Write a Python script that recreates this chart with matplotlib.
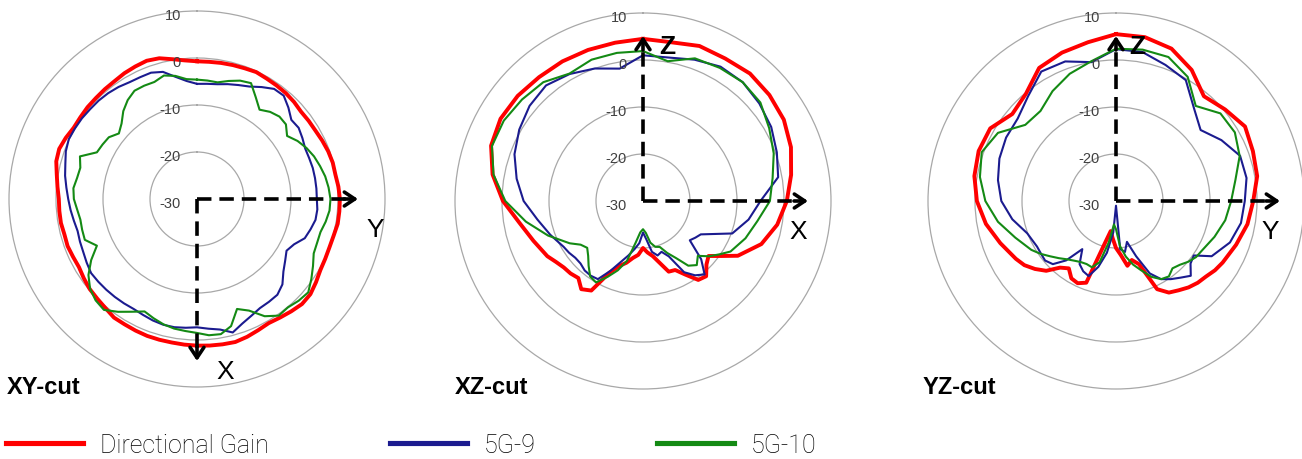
import numpy as np
import matplotlib
matplotlib.use("Agg")
import matplotlib.pyplot as plt
from matplotlib.lines import Line2D
from matplotlib.transforms import offset_copy

# ---------------- data (dB, angle clockwise from top) ----------------
ang_xy = list(range(0, 360, 5))
ang_bot = list(range(0, 120, 10)) + list(range(120, 245, 5)) + list(range(250, 360, 10))

xy_gain = [-0.7, -0.7, -0.6, -0.5, -0.4, -0.2, -0.4, -0.5, -0.6, -0.8, -1.1, -1.0,
           -0.9, -0.6, -0.3, -0.1, -0.1, 0.2, 0.4, 0.4, 0.4, 0.1, 0.0, 0.1,
           0.3, 0.9, 1.5, 1.6, 1.2, 0.8, 0.5, 0.8, 1.2, 1.5, 1.4, 1.3,
           1.2, 1.1, 1.0, 1.0, 1.0, 0.9, 0.8, 0.8, 0.3, 0.0, -0.2, -0.6,
           -1.0, -0.9, -0.7, -0.8, -0.6, -0.6, -0.6, -0.2, 0.3, 1.0, 1.2, 0.8,
           0.3, 0.3, 0.4, 0.4, 0.5, 0.6, 0.9, 1.1, 1.3, 1.0, 0.2, -0.4]
xy_5g9 = [-5.5, -5.4, -5.2, -4.7, -4.2, -3.6, -2.5, -1.4, -1.3, -2.5, -3.8, -3.6,
          -4.1, -4.6, -4.6, -4.5, -4.5, -4.5, -4.5, -4.3, -4.4, -5.0, -5.6, -7.2,
          -8.0, -7.1, -6.0, -4.3, -3.4, -3.3, -3.2, -2.6, -1.8, -0.6, -1.8, -2.3,
          -2.7, -2.5, -2.3, -2.3, -2.5, -2.8, -3.0, -2.9, -2.8, -2.7, -2.6, -2.5,
          -2.9, -3.3, -3.5, -3.7, -3.4, -3.0, -2.6, -2.1, -1.5, -1.0, -0.3, 0.1,
          0.0, -0.1, -0.3, -0.4, -0.6, -0.9, -1.3, -1.4, -1.4, -2.0, -3.6, -4.8]
xy_5g10 = [-4.6, -4.7, -4.8, -4.0, -3.2, -2.8, -5.0, -6.8, -5.8, -5.2, -5.3, -6.6,
           -5.3, -4.3, -3.5, -2.9, -2.3, -1.9, -1.6, -1.7, -2.2, -2.8, -2.8, -2.6,
           -1.5, -0.3, 0.9, 0.6, 0.1, 0.3, -1.2, -3.8, -5.1, -2.0, -0.8, -0.9,
           -1.5, -1.8, -2.0, -2.4, -3.0, -3.6, -2.3, -0.7, 0.8, 0.5, -0.3, -1.8,
           -4.0, -6.5, -4.6, -4.7, -4.8, -4.4, -3.8, -3.6, -4.1, -4.3, -3.5, -6.5,
           -6.8, -7.1, -8.3, -7.3, -5.6, -4.3, -3.4, -3.4, -3.5, -2.8, -3.4, -4.4]

xz_gain = [4.5, 4.3, 5.1, 5.0, 5.4, 5.1, 4.6, 3.5, 2.0, 0.6, -1.0, -3.2,
           -6.7, -9.6, -11.8, -10.9, -9.1, -9.5, -11.9, -13.8, -14.0, -16.4, -18.1, -19.0,
           -20.0, -18.5, -17.7, -16.4, -15.3, -13.2, -8.0, -7.1, -8.6, -8.2, -8.0, -7.4, -6.5,
           -5.2, -3.3, -0.2, 2.5, 4.4, 5.0, 4.8, 4.4, 4.3, 4.2, 4.2]
xz_5g9 = [1.0, 1.0, 2.0, 3.0, 3.0, 2.3, 1.5, 0.3, -0.8, -5.0, -7.2, -9.8,
          -15.8, -16.4, -17.0, -12.5, -9.6, -10.7, -12.5, -17.0, -18.5, -18.0, -19.0, -21.8,
          -23.3, -21.0, -19.6, -18.0, -16.2, -13.6, -10.8, -10.6, -10.7, -11.2, -11.2, -10.8, -10.5,
          -9.0, -7.2, -4.6, -2.7, -0.9, 0.4, 1.5, 2.1, 1.2, 0.0, -1.4]
xz_5g10 = [1.9, 0.2, 2.3, 2.7, 3.0, 2.6, 1.0, -0.4, -2.0, -3.0, -5.3, -6.8,
           -8.5, -10.2, -11.7, -13.5, -12.2, -13.2, -16.0, -17.8, -19.6, -19.9, -21.0, -23.2,
           -24.0, -23.3, -21.0, -16.8, -14.3, -12.2, -10.0, -10.4, -12.0, -13.5, -14.5, -13.8, -12.0,
           -8.5, -4.7, -0.7, 2.3, 4.2, 4.2, 3.6, 3.0, 1.3, 2.0, 2.0]

yz_gain = [5.5, 5.4, 4.5, 2.2, -0.9, 0.3, 1.7, 1.0, 0.5, -0.8, -1.6, -2.8,
           -3.8, -4.3, -5.0, -5.4, -6.0, -6.8, -7.5, -9.3, -15.7, -17.0, -16.0, -18.5,
           -20.0, -22.0, -23.5, -20.5, -11.5, -10.7, -11.0, -12.5, -11.5, -9.0, -7.5, -6.2, -5.4,
           -3.8, -1.9, -0.4, 0.6, 1.1, 0.9, -1.2, -0.2, 2.7, 3.6, 4.3]
yz_5g9 = [2.3, 2.2, 0.8, -0.3, -4.2, -6.5, -4.1, -1.9, -1.8, -2.6, -3.0, -4.2,
          -6.5, -9.8, -9.3, -7.5, -8.7, -9.7, -10.8, -13.0, -17.5, -21.0, -19.0, -19.7,
          -29.0, -23.3, -18.8, -15.5, -13.0, -13.5, -14.5, -17.5, -13.5, -11.0, -10.3, -10.5, -10.6,
          -9.9, -7.6, -5.6, -4.5, -3.6, -3.0, -2.7, -0.9, 1.8, 1.6, 0.0]
yz_5g10 = [2.4, 2.7, 2.6, 0.5, -3.6, -1.0, -0.8, -2.0, -4.2, -5.5, -6.4, -7.7,
           -8.9, -9.2, -9.9, -10.8, -11.3, -10.4, -10.8, -12.2, -14.3, -16.0, -18.0, -20.4,
           -24.0, -25.0, -21.0, -16.5, -15.0, -15.2, -15.0, -14.5, -13.8, -12.8, -11.7, -10.4, -9.2,
           -7.2, -4.5, -2.2, -0.6, 0.4, -1.0, -4.8, -5.0, -3.0, -1.2, 0.2]

series_names = ["Directional Gain", "5G-9", "5G-10"]
series_colors = ["#FF0000", "#1B1B8F", "#148A14"]
series_widths = [2.8, 1.5, 1.5]
ring_values = [-30, -20, -10, 0, 10]
cut_titles = ["XY-cut", "XZ-cut", "YZ-cut"]

cuts = [
    (ang_xy, [xy_gain, xy_5g9, xy_5g10]),
    (ang_bot, [xz_gain, xz_5g9, xz_5g10]),
    (ang_bot, [yz_gain, yz_5g9, yz_5g10]),
]

# ---------------- layout ----------------
W, H = 1302, 460
fig = plt.figure(figsize=(W / 100, H / 100), dpi=100)
R = 188.0
centers = [(197, 200), (643, 202), (1116, 202)]
title_x = [7, 455, 923]
PX = 0.5 / R  # axes fraction per pixel

arrow_specs = [
    dict(h_len=161, v_len=-162, h_lab="Y", h_pos=(178, -30), v_lab="X", v_pos=(28, -172), v_bold=False),
    dict(h_len=165, v_len=165, h_lab="X", h_pos=(155, -30), v_lab="Z", v_pos=(24, 155), v_bold=True),
    dict(h_len=164, v_len=165, h_lab="Y", h_pos=(154, -30), v_lab="Z", v_pos=(21, 155), v_bold=True),
]

for i, ((ang, vals), (cx, cy)) in enumerate(zip(cuts, centers)):
    ax = fig.add_axes([(cx - R) / W, (H - cy - R) / H, 2 * R / W, 2 * R / H],
                      projection="polar")
    ax.set_theta_zero_location("N")
    ax.set_theta_direction(-1)
    ax.set_ylim(-30, 10)
    ax.set_xticks([])
    ax.set_yticks([-20, -10, 0])
    ax.set_yticklabels([])
    ax.yaxis.grid(True, color="#A8A8A8", lw=0.9)
    ax.spines["polar"].set_color("#A8A8A8")
    ax.spines["polar"].set_linewidth(0.9)
    ax.set_facecolor("none")

    th = np.deg2rad(np.array(ang + [ang[0]]))
    for v, c, lw, nm in zip(vals, series_colors, series_widths, series_names):
        ax.plot(th, np.array(v + [v[0]]), color=c, lw=lw, label=nm, zorder=3)

    tr = offset_copy(ax.transData, fig=fig, x=-16, y=-4.5, units="dots")
    for rv in ring_values:
        ax.text(0, rv, str(rv), transform=tr, ha="right", va="center",
                fontsize=10.5, color="#404040", family="Liberation Sans", zorder=5)

    sp = arrow_specs[i]
    hx = 0.5 + sp["h_len"] * PX
    ax.plot([0.5, hx - 6 * PX], [0.5, 0.5], transform=ax.transAxes, color="black",
            lw=2.6, ls=(0, (4, 2.2)), zorder=6, clip_on=False)
    ax.annotate("", xy=(hx, 0.5), xytext=(hx - 14 * PX, 0.5), xycoords="axes fraction",
                textcoords="axes fraction",
                arrowprops=dict(arrowstyle="->,head_length=0.75,head_width=0.5", lw=2.6,
                                color="black", shrinkA=0, shrinkB=0), zorder=6)
    vy = 0.5 + sp["v_len"] * PX
    sgn = 1 if sp["v_len"] > 0 else -1
    ax.plot([0.5, 0.5], [0.5, vy - sgn * 6 * PX], transform=ax.transAxes, color="black",
            lw=2.6, ls=(0, (4, 2.2)), zorder=6, clip_on=False)
    ax.annotate("", xy=(0.5, vy), xytext=(0.5, vy - sgn * 14 * PX), xycoords="axes fraction",
                textcoords="axes fraction",
                arrowprops=dict(arrowstyle="->,head_length=0.75,head_width=0.5", lw=2.6,
                                color="black", shrinkA=0, shrinkB=0), zorder=6)
    ax.text(0.5 + sp["h_pos"][0] * PX, 0.5 + sp["h_pos"][1] * PX, sp["h_lab"],
            transform=ax.transAxes, ha="center", va="center", fontsize=19,
            family="Liberation Sans", color="black", zorder=7)
    ax.text(0.5 + sp["v_pos"][0] * PX, 0.5 + sp["v_pos"][1] * PX, sp["v_lab"],
            transform=ax.transAxes, ha="center", va="center", fontsize=19,
            fontweight="bold" if sp["v_bold"] else "normal",
            family="Liberation Sans", color="black", zorder=7)

    fig.text(title_x[i] / W, 1 - 388 / H, cut_titles[i], ha="left", va="center",
             fontsize=17, fontweight="bold", family="Liberation Sans", color="black")

handles = [Line2D([], [], color=c, lw=3.7) for c in series_colors]
fig.legend(handles, series_names, loc="center left", bbox_to_anchor=(6 / W, 1 - 446 / H),
           ncol=3, frameon=False, borderpad=0, borderaxespad=0,
           handlelength=3.07, handletextpad=0.68, columnspacing=4.85,
           prop=dict(family=["Roboto", "DejaVu Sans"], weight="light", size=18),
           labelcolor="black")

fig.savefig("out.png", dpi=100, facecolor="white")
